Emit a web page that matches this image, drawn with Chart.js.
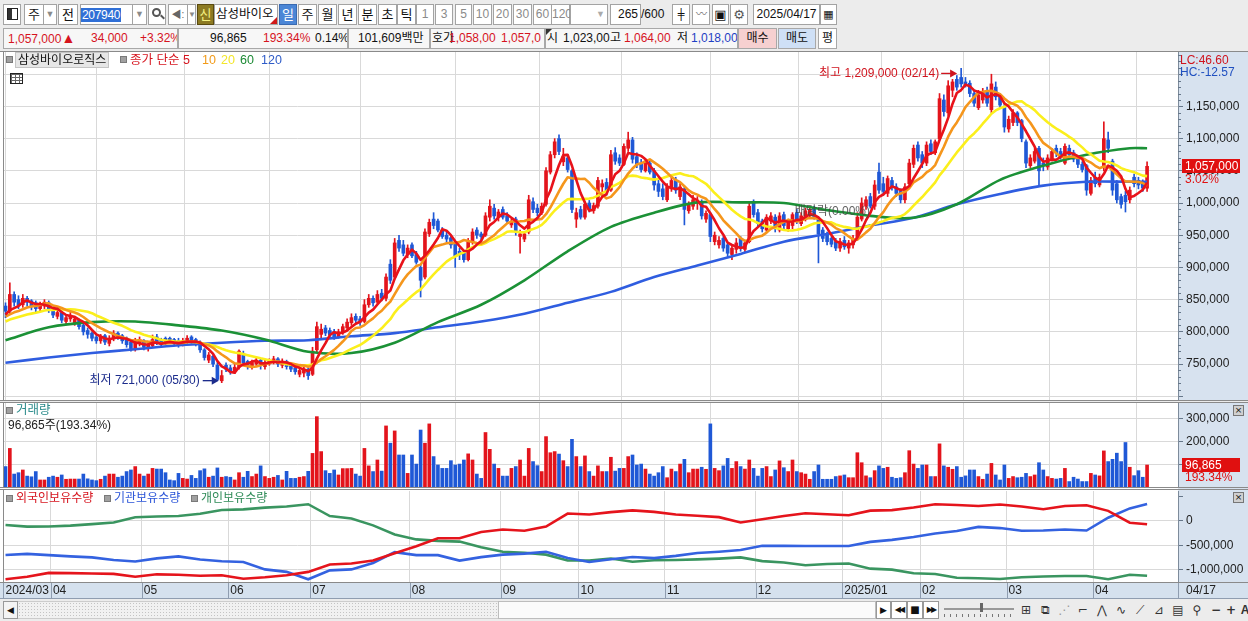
<!DOCTYPE html>
<html lang="ko">
<head>
<meta charset="utf-8">
<title>삼성바이오로직스 일봉</title>
<script src="https://cdn.jsdelivr.net/npm/chart.js@4.4.1/dist/chart.umd.min.js"></script>
<style>
html,body{margin:0;padding:0}
body{width:1248px;height:621px;overflow:hidden;background:#ececec;position:relative;
 font-family:"Liberation Sans","Noto Sans CJK KR","DejaVu Sans",sans-serif;font-size:12px;color:#111}
.a{position:absolute;box-sizing:border-box;white-space:nowrap}
.b{border:1px solid #a3a3a3;background:#fff;text-align:center;height:21px;line-height:19px;top:4px;font-size:13px}
.g{color:#8a8a8a;font-size:12px}
.r{color:#d6141e}
.bl{color:#1f3fc4}
.row2{top:28px;height:21px;line-height:19px;border:1px solid #a8a8a8;background:#f7f7f7;overflow:hidden}
.t{position:absolute;top:0}
.sq{position:absolute;width:7px;height:7px;background:#a0a0a0;border:1px solid #7a7a7a;box-sizing:border-box}
canvas{position:absolute;left:0}
.ic{position:absolute;top:602px;height:17px;width:18px;text-align:center;font-size:12px;line-height:17px;color:#333;font-family:"DejaVu Sans",sans-serif}
</style>
</head>
<body>
<!-- toolbar row 1 -->
<div class="a b" style="left:3px;width:18px"><div class="a" style="left:3px;top:3px;width:11px;height:12px;border:1px solid #222;background:linear-gradient(90deg,#333 0 4px,#fff 4px)"></div></div>
<div class="a b" style="left:24px;width:20px">주</div>
<div class="a b g" style="left:43px;width:14px;font-size:9px">▼</div>
<div class="a b" style="left:58px;width:20px">전</div>
<div class="a b" style="left:80px;width:53px;text-align:left"><span style="background:#2f6fd6;color:#fff;padding:0 1px;font-size:12px;letter-spacing:-0.3px">207940</span></div>
<div class="a b g" style="left:132px;width:15px;font-size:9px">▼</div>
<div class="a b" style="left:148px;width:18px"><div class="a" style="left:3px;top:3px;width:9px;height:9px;border:2px solid #555;border-radius:50%"></div><div class="a" style="left:11px;top:11px;width:5px;height:2px;background:#555;transform:rotate(45deg)"></div></div>
<div class="a b g" style="left:168px;width:20px;font-size:10px;color:#666">◀:</div>
<div class="a b g" style="left:187px;width:9px;font-size:8px">▼</div>
<div class="a b" style="left:197px;width:17px;background:#8c7a22;border-color:#5a4a10;color:#f4f080">신</div>
<div class="a b" style="left:214px;width:64px;text-align:left;padding-left:1px;font-size:12.5px">삼성바이오<div class="a" style="right:0;bottom:0;width:0;height:0;border-left:7px solid transparent;border-bottom:7px solid #d01818"></div></div>
<div class="a b" style="left:279px;width:18px;background:#4b86d6;border-color:#3a6ab0;color:#fff">일</div>
<div class="a b" style="left:298px;width:19px">주</div>
<div class="a b" style="left:318px;width:19px">월</div>
<div class="a b" style="left:338px;width:19px">년</div>
<div class="a b" style="left:358px;width:19px">분</div>
<div class="a b" style="left:378px;width:19px">초</div>
<div class="a b" style="left:397px;width:19px">틱</div>
<div class="a b g" style="left:416px;width:18px">1</div>
<div class="a b g" style="left:435px;width:18px">3</div>
<div class="a b g" style="left:455px;width:17px">5</div>
<div class="a b g" style="left:473px;width:19px">10</div>
<div class="a b g" style="left:493px;width:19px">20</div>
<div class="a b g" style="left:513px;width:19px">30</div>
<div class="a b g" style="left:533px;width:19px">60</div>
<div class="a b g" style="left:551px;width:19px">120</div>
<div class="a b" style="left:570px;width:38px"><span class="a g" style="right:2px;top:0;font-size:9px;color:#aaa">▼</span></div>
<div class="a b" style="left:610px;width:31px;text-align:right;padding-right:2px;font-size:12px">265</div>
<div class="a" style="left:641px;top:4px;line-height:21px;font-size:12px">/600</div>
<div class="a b" style="left:672px;width:18px;font-family:'DejaVu Sans';font-size:11px">╪</div>
<div class="a b" style="left:692px;width:18px;font-family:'DejaVu Sans';font-size:11px;color:#777">〰</div>
<div class="a b" style="left:712px;width:17px;font-family:'DejaVu Sans';font-size:13px">▣</div>
<div class="a b" style="left:730px;width:18px;font-family:'DejaVu Sans';font-size:13px;color:#555">⚙</div>
<div class="a b" style="left:753px;width:67px;font-size:12px">2025/04/17</div>
<div class="a b" style="left:820px;width:17px;font-family:'DejaVu Sans';font-size:11px">▦</div>

<!-- toolbar row 2 -->
<div class="a row2" style="left:3px;width:175px"><span class="t r" style="left:4px">1,057,000<span style="font-size:14px">▲</span></span><span class="t r" style="left:87px">34,000</span><span class="t r" style="left:136px">+3.32%</span></div>
<div class="a row2" style="left:178px;width:170px"><span class="t" style="left:31px">96,865</span><span class="t r" style="left:84px">193.34%</span><span class="t" style="left:136px">0.14%</span></div>
<div class="a row2" style="left:348px;width:82px"><span class="t" style="left:9px">101,609백만</span></div>
<div class="a row2" style="left:430px;width:115px"><span class="t" style="left:1px">호가</span><span class="t r" style="left:18px">1,058,00</span><span class="t r" style="left:70px">1,057,0</span></div>
<div class="a row2" style="left:545px;width:193px"><div class="a" style="left:0;top:0;width:0;height:0;border-top:6px solid #333;border-right:6px solid transparent"></div><span class="t" style="left:1px">시</span><span class="t" style="left:17px">1,023,00</span><span class="t" style="left:64px">고</span><span class="t r" style="left:78px">1,064,00</span><span class="t" style="left:131px">저</span><span class="t bl" style="left:145px">1,018,00</span></div>
<div class="a row2" style="left:738px;width:39px;background:#f6d0d0;text-align:center">매수</div>
<div class="a row2" style="left:778px;width:38px;background:#cfe0f6;text-align:center">매도</div>
<div class="a row2" style="left:818px;width:19px;background:#fff;text-align:center">평</div>

<!-- charts -->
<canvas id="cPrice" width="1248" height="350" style="top:51px"></canvas>
<canvas id="cVol" width="1248" height="87" style="top:402px"></canvas>
<canvas id="cHold" width="1248" height="110" style="top:489px"></canvas>

<!-- price legend -->
<div class="sq" style="left:6px;top:56px"></div>
<div class="a" style="left:15px;top:52px;height:16px;padding:0 2px;background:#e6e6e6;border:1px solid #c4c4c4;font-size:12px;line-height:14px">삼성바이오로직스</div>
<div class="sq" style="left:120px;top:56px"></div>
<div class="a r" style="left:130px;top:52px;font-size:12.5px;line-height:16px">종가 단순 5</div>
<div class="a" style="left:202px;top:52px;font-size:12.5px;line-height:16px;color:#f29a18">10</div>
<div class="a" style="left:221px;top:52px;font-size:12.5px;line-height:16px;color:#f3e62a">20</div>
<div class="a" style="left:240px;top:52px;font-size:12.5px;line-height:16px;color:#1c8a34">60</div>
<div class="a" style="left:261px;top:52px;font-size:12.5px;line-height:16px;color:#2f5cc8">120</div>
<div class="a" style="left:10px;top:73px;width:13px;height:11px;border:1px solid #222;background-color:#fff;background-image:linear-gradient(#666 1px,transparent 1px),linear-gradient(90deg,#666 1px,transparent 1px);background-size:4px 3px"></div>

<!-- volume legend -->
<div class="sq" style="left:6px;top:407px"></div>
<div class="a" style="left:16px;top:403px;font-size:12.5px;line-height:15px;color:#2c8c8c">거래량</div>
<div class="a" style="left:8px;top:418px;font-size:12px;line-height:15px;color:#222">96,865주(193.34%)</div>
<div class="a" style="left:1233px;top:405px;width:11px;height:11px;background:#d0d0d0;border:1px solid #777;font-size:9px;line-height:9px;text-align:center;font-family:'DejaVu Sans'">×</div>

<!-- holdings legend -->
<div class="sq" style="left:6px;top:495px"></div>
<div class="a r" style="left:16px;top:491px;font-size:12px;line-height:15px">외국인보유수량</div>
<div class="sq" style="left:104px;top:495px"></div>
<div class="a bl" style="left:114px;top:491px;font-size:12px;line-height:15px;color:#2a54d8">기관보유수량</div>
<div class="sq" style="left:191px;top:495px"></div>
<div class="a" style="left:201px;top:491px;font-size:12px;line-height:15px;color:#2e8b57">개인보유수량</div>
<div class="a" style="left:1233px;top:492px;width:11px;height:11px;background:#d0d0d0;border:1px solid #777;font-size:9px;line-height:9px;text-align:center;font-family:'DejaVu Sans'">×</div>

<!-- scroll row -->
<div class="a" style="left:3px;top:601px;width:15px;height:18px;border:1px solid #999;background:#f4f4f4;font-size:9px;line-height:16px;text-align:center;font-family:'DejaVu Sans'">◀</div>
<div class="a" style="left:18px;top:601px;width:480px;height:18px;background-color:#f1f1f1;border-top:1px solid #ccc;border-bottom:1px solid #ccc;background-image:radial-gradient(#c4c4c4 0.7px,transparent 0.8px);background-size:3px 3px"></div>
<div class="a" style="left:498px;top:601px;width:378px;height:18px;background:#fbfbfb;border:1px solid #bdbdbd"></div>
<div class="a" style="left:876px;top:601px;width:15px;height:18px;border:1px solid #999;background:#fff;font-size:9px;line-height:16px;text-align:center;font-family:'DejaVu Sans'">▶</div>
<div class="a" style="left:891px;top:601px;width:16px;height:18px;border:1px solid #999;background:#fff;font-size:8px;line-height:16px;text-align:center;font-family:'DejaVu Sans';letter-spacing:-2px">◀◀</div>
<div class="a" style="left:907px;top:601px;width:16px;height:18px;border:1px solid #999;background:#fff;font-size:10px;line-height:16px;text-align:center;font-family:'DejaVu Sans'">■</div>
<div class="a" style="left:923px;top:601px;width:16px;height:18px;border:1px solid #999;background:#fff;font-size:8px;line-height:16px;text-align:center;font-family:'DejaVu Sans';letter-spacing:-2px">▶▶</div>
<div class="a" style="left:944px;top:608px;width:70px;height:2px;background:#999"></div>
<div class="a" style="left:980px;top:603px;width:3px;height:9px;background:#666"></div>
<div class="a" style="left:944px;top:614px;width:70px;height:3px;background-image:linear-gradient(90deg,#777 1px,transparent 1px);background-size:6px 3px"></div>
<div class="ic" style="left:1017px">⊞</div>
<div class="ic" style="left:1036px">⧉</div>
<div class="ic" style="left:1055px;color:#999">⋰</div>
<div class="ic" style="left:1074px">⌐</div>
<div class="ic" style="left:1093px">⋀</div>
<div class="ic" style="left:1112px">∿</div>
<div class="ic" style="left:1131px">⟋</div>
<div class="ic" style="left:1150px">⊿</div>
<div class="ic" style="left:1169px">▤</div>
<div class="ic" style="left:1188px">⚲</div>
<div class="ic" style="left:1207px;font-weight:bold">−</div>
<div class="ic" style="left:1222px;font-weight:bold">+</div>
<div class="ic" style="left:1236px;font-weight:bold;font-family:'Liberation Sans'">A</div>

<script>
// ===== DATA (prices in thousand KRW, volumes/holdings in thousand shares) =====
const preCloses = [798,805,802,810,808,815,812,806,810,818,822,815,820,826,818,824,830,826,822];

const opens = [840,832,858,850,842,852,848,845,836,840,845,
836,824,830,816,820,814,818,810,802,798,792,786,794,782,790,798,794,790,784,774,782,
786,774,778,792,788,790,790,788,786,780,784,792,788,784,772,756,762,748,724,748,
744,738,745,766,754,746,750,756,746,750,752,758,748,754,748,744,734,736,742,
734,772,796,806,802,800,792,800,806,814,824,820,816,842,852,846,860,852,905,885,942,935,920,
935,920,900,885,952,975,972,958,950,946,938,925,922,912,940,958,952,950,978,992,978,
990,980,966,975,948,944,955,1002,992,985,998,1048,1075,1100,1064,1070,1050,975,
990,978,1000,988,995,1025,1032,1020,1078,1070,1060,1085,1098,1072,1062,1050,1062,1050,1030,1022,
1005,1022,1035,1010,1022,988,995,1000,1002,975,982,940,935,945,935,920,928,945,928,940,1000,
985,972,958,972,978,958,982,960,965,985,968,975,980,992,975,958,950,945,940,930,
942,930,935,945,975,995,1010,995,1048,1030,1015,1035,1025,1018,1005,1030,1060,1090,
1075,1062,1092,1078,1100,1160,1140,1175,1192,1195,1188,1186,1170,1148,1160,1175,1145,1180,1165,1150,
1115,1125,1140,1128,1095,1058,1065,1085,1062,1056,1068,1085,1080,1062,1085,1078,1068,1060,1058,1015,
1040,1028,1055,1098,1065,1030,1010,1012,1005,1040,1035,1032,1023];

const highs = [845,876,862,856,858,855,850,848,846,850,848,
838,834,832,826,830,824,820,812,806,800,795,796,796,794,802,800,796,792,786,790,792,
788,784,795,796,790,792,792,790,790,790,794,794,790,786,774,768,764,752,740,752,
748,750,772,770,756,756,760,758,756,758,762,760,758,756,750,746,744,746,744,
776,815,812,810,806,804,804,812,820,828,828,824,850,858,856,864,866,890,912,945,950,942,935,
938,925,905,960,975,985,975,962,955,950,942,930,926,945,960,962,955,985,1005,998,990,
994,985,975,978,958,956,1012,1008,998,1000,1055,1080,1100,1106,1085,1075,1052,992,
995,1002,1004,1000,1040,1036,1038,1082,1086,1075,1092,1110,1102,1078,1068,1068,1066,1054,1036,1030,
1030,1040,1040,1030,1026,1002,1012,1010,1005,988,985,955,948,948,938,935,945,948,942,1002,1005,
990,975,982,985,982,985,986,975,985,990,985,992,995,995,978,962,955,948,945,945,
948,942,950,985,1008,1010,1015,1035,1062,1040,1042,1040,1030,1022,1030,1068,1090,1095,
1080,1095,1098,1098,1170,1168,1190,1192,1198,1209,1195,1190,1175,1175,1178,1180,1200,1188,1170,1155,
1135,1145,1142,1130,1098,1075,1085,1088,1070,1075,1085,1090,1085,1092,1090,1082,1072,1064,1060,1040,
1048,1045,1126,1110,1068,1035,1014,1018,1025,1045,1040,1036,1064];

const lows = [822,828,840,836,838,840,834,830,832,836,830,
822,820,814,812,816,810,804,795,790,786,782,782,780,778,786,788,782,776,770,770,778,
772,770,776,780,776,780,782,778,776,778,782,782,778,768,756,752,746,724,721,738,
734,735,742,748,742,742,746,742,742,748,750,746,744,742,738,734,730,730,726,
732,768,790,794,790,788,790,796,802,810,814,810,814,838,840,842,848,848,875,882,925,918,915,
915,905,854,882,948,960,955,945,940,930,900,912,908,910,936,945,942,948,972,975,972,
975,968,962,950,922,940,952,985,980,982,995,1045,1070,1075,1058,1048,985,962,
975,975,986,984,992,1015,1012,1018,1060,1058,1058,1080,1062,1055,1048,1048,1045,1020,1010,1005,
1002,1018,1015,1005,966,984,990,990,975,970,940,935,930,925,915,912,922,925,924,938,978,
962,955,955,968,955,955,960,956,960,968,965,972,976,975,907,940,935,932,926,925,
928,922,930,942,972,990,992,990,1015,1012,1010,1020,1010,1000,1000,1025,1055,1065,
1055,1058,1075,1075,1098,1135,1136,1165,1175,1180,1180,1165,1150,1145,1155,1150,1140,1160,1148,1110,
1110,1120,1120,1095,1055,1055,1062,1028,1050,1052,1065,1072,1068,1060,1070,1064,1055,1048,1012,1012,
1025,1025,1050,1078,1012,1000,992,986,1000,1025,1022,1018,1018];

const closes = [832,858,846,842,852,846,840,836,842,846,834,
826,830,818,822,826,820,808,800,796,790,786,792,784,790,798,792,786,780,774,784,788,
776,780,788,784,780,784,786,782,780,786,790,786,782,772,760,764,750,726,732,742,
738,745,770,752,748,752,755,748,752,754,758,750,754,746,742,738,740,742,732,
770,808,804,798,795,792,800,808,815,822,818,815,842,852,845,858,852,885,880,938,930,922,930,
918,908,880,955,970,965,958,948,944,935,918,920,912,940,955,950,948,980,995,980,986,
978,972,970,955,952,952,1005,990,985,995,1050,1075,1095,1080,1072,1052,990,985,
978,998,990,996,1035,1030,1018,1075,1065,1062,1088,1098,1068,1060,1052,1062,1048,1028,1018,1010,
1025,1035,1020,1025,990,998,1005,1004,980,984,948,950,942,930,922,930,938,930,938,995,982,
968,960,978,980,960,980,965,970,982,972,980,988,990,978,952,945,940,936,930,940,
932,938,945,978,1000,1005,995,1028,1020,1018,1038,1025,1015,1005,1025,1062,1085,1070,
1062,1090,1080,1095,1162,1142,1182,1188,1180,1185,1184,1170,1155,1168,1172,1155,1185,1165,1152,1118,
1130,1140,1125,1100,1062,1070,1080,1050,1058,1070,1080,1078,1072,1088,1075,1068,1060,1052,1020,1035,
1030,1040,1100,1085,1020,1005,998,1002,1020,1030,1028,1023,1057];

const volumes = [90,170,57,63,75,48,45,68,31,31,43,
48,43,53,34,35,35,35,57,36,31,28,34,48,57,57,43,48,68,75,90,57,
48,57,82,79,79,63,31,28,60,38,35,51,38,72,80,43,48,84,43,46,
43,31,63,43,69,46,57,93,46,38,43,51,31,69,38,38,43,46,69,
148,310,156,72,60,75,53,81,81,82,57,48,170,93,68,119,70,269,193,247,141,141,60,
141,101,251,193,278,134,97,82,82,116,97,101,119,146,119,57,38,240,166,101,82,
48,48,82,90,119,48,170,112,94,68,222,151,156,145,116,90,210,134,
90,137,68,48,93,68,68,131,70,82,82,134,141,97,101,79,57,48,63,90,
41,79,68,101,122,63,79,79,87,78,278,82,72,93,126,82,112,90,79,119,82,
48,82,90,46,75,115,85,68,119,68,63,57,34,68,97,34,34,34,46,49,
53,41,41,151,107,49,41,72,93,82,87,43,38,41,63,160,101,82,
97,97,46,46,190,93,87,78,90,43,49,75,75,46,34,57,104,53,31,97,
38,46,41,43,60,46,53,107,75,46,38,35,38,82,24,43,35,24,24,60,
53,49,159,112,122,149,112,196,87,50,72,43,96.865];

// moving averages 60 / 120 at these bar indices
const maIdx = [0,10,20,30,40,50,60,70,80,90,100,110,120,130,140,150,160,170,180,190,200,210,220,230,240,250,260,264];
const ma60  = [787,807,815,816,810,802,788,769,767,783,815,842,880,925,963,985,1001,1001,1000,989,980,977,998,1036,1058,1075,1085,1085];
const ma120 = [752,760,767,773,779,783,786,787,793,798,807,816,828,845,862,885,903,921,940,952,965,977,998,1014,1027,1033,1033,1033];

// investor holdings (thousand shares, relative) at these bar indices
const holdIdx = [0,5,10,15,20,25,30,35,40,45,50,55,60,65,70,75,80,85,90,95,100,105,110,115,120,125,130,135,140,145,150,155,160,165,170,175,180,185,190,195,200,205,210,215,220,225,230,235,240,245,250,255,260,264];
const foreignHold = [-1191,-1138,-1060,-1066,-1072,-1080,-1138,-1090,-1100,-1118,-1110,-1180,-1150,-1110,-1040,-890,-870,-810,-660,-520,-358,-358,-230,-180,-203,-120,145,125,175,210,180,125,100,72,-35,28,95,150,130,110,205,215,270,335,320,300,330,290,232,300,315,200,-40,-73];
const instHold = [-697,-675,-700,-725,-745,-800,-830,-765,-725,-790,-825,-840,-990,-1040,-1191,-1010,-990,-860,-640,-700,-700,-810,-740,-690,-670,-630,-760,-840,-785,-738,-760,-715,-655,-630,-596,-510,-512,-514,-514,-514,-430,-390,-330,-260,-210,-125,-150,-203,-200,-180,-200,60,250,339];
const indivHold = [-87,-120,-118,-100,-70,-35,69,85,96,140,217,230,265,290,335,95,45,-95,-280,-380,-410,-425,-540,-630,-650,-690,-810,-810,-770,-833,-805,-800,-787,-770,-745,-822,-850,-905,-880,-870,-975,-995,-1069,-1083,-1160,-1171,-1185,-1150,-1135,-1124,-1124,-1191,-1100,-1118];

// axis data
const monthStart  = [0,11,32,52,71,94,115,133,153,174,194,212,232,252];
const monthLabels = ['2024/03','04','05','06','07','08','09','10','11','12','2025/01','02','03','04'];
const lastDateLabel = '04/17';
const priceTicks = [700,750,800,850,900,950,1000,1050,1100,1150,1200];
const priceLabelTicks = [750,800,850,900,950,1000,1050,1100,1150];
const volTicks = [100,200,300];
const holdTicks = [-1000,-500,0,500];
const holdLabelTicks = [-1000,-500,0];
const highDate = '02/14', lowDate = '05/30';
const exDivIndex = 183, exDivText = '배당락(0.00%)';
const tagPct = '3.02%', volPct = '193.34%';
const lcText = 'LC:46.60', hcText = 'HC:-12.57';

// ===== RENDERING =====
const FONT = "'Liberation Sans','Noto Sans CJK KR','DejaVu Sans',sans-serif";
Chart.defaults.font.family = FONT;
Chart.defaults.font.size = 12;
Chart.defaults.color = '#222';
const RED = '#e3141c', BLUE = '#1f58d6', GRID = '#d9d9d9', AXIS_BG = '#d7e2ef';
const XMIN = -0.35, XMAX = 271.15;
const fmt = v => Math.round(v).toLocaleString('en-US');
const N = closes.length;
const allCloses = preCloses.concat(closes);
function sma(n){
  const out = [];
  for (let i = 0; i < N; i++){
    let s = 0;
    for (let k = 0; k < n; k++) s += allCloses[preCloses.length + i - k];
    out.push({x:i, y:s/n});
  }
  return out;
}
const candleColor = closes.map((c,i) => c >= opens[i] ? RED : BLUE);

const scaleX = () => ({
  type:'linear', min:XMIN, max:XMAX, offset:false,
  afterBuildTicks: s => { s.ticks = monthStart.filter(v => v - 0.5 > XMIN).map(v => ({value:v - 0.5})); },
  afterFit: s => { s.height = 0; s.paddingLeft = 0; s.paddingRight = 0; s.paddingTop = 0; s.paddingBottom = 0; },
  ticks:{display:false},
  grid:{color:GRID, drawTicks:false, lineWidth:1},
  border:{display:false}
});
const scaleY = (min, max, ticks, shown, mult, gridAll) => ({
  position:'right', min, max,
  afterFit: s => { s.width = 70; s.paddingTop = 0; s.paddingBottom = 0; s.paddingLeft = 0; s.paddingRight = 0; },
  afterBuildTicks: s => { s.ticks = ticks.map(v => ({value:v})); },
  ticks:{ callback: v => shown.includes(v) ? fmt(v*mult) : '', padding:3, color:'#222', autoSkip:false, maxRotation:0, font:{size:12} },
  grid:{ color: c => (gridAll || (c.tick && shown.includes(c.tick.value))) ? GRID : 'rgba(0,0,0,0)', tickColor:'#66778a', tickLength:5 },
  border:{ color:'#7d8b9b' }
});

const panelPlugin = {
  id:'panelFrame',
  beforeDraw(chart){
    const {ctx, chartArea:a, width, height} = chart;
    ctx.save();
    ctx.fillStyle = '#ffffff'; ctx.fillRect(0, 0, a.right, height);
    ctx.fillStyle = AXIS_BG; ctx.fillRect(a.right, 0, width - a.right, height);
    ctx.restore();
  },
  afterDraw(chart){
    const {ctx, chartArea:a, width} = chart;
    ctx.save();
    ctx.strokeStyle = '#8a8a8a'; ctx.lineWidth = 1;
    ctx.beginPath();
    ctx.moveTo(3.5, 0); ctx.lineTo(3.5, a.bottom + 0.5);
    ctx.moveTo(0, 0.5); ctx.lineTo(width, 0.5);
    ctx.moveTo(0, a.bottom + 0.5); ctx.lineTo(width, a.bottom + 0.5);
    ctx.stroke();
    ctx.restore();
  }
};

function arrow(ctx, x1, x2, y, color){
  ctx.strokeStyle = color; ctx.fillStyle = color; ctx.lineWidth = 1.3;
  ctx.beginPath(); ctx.moveTo(x1, y); ctx.lineTo(x2 - 5, y); ctx.stroke();
  ctx.beginPath(); ctx.moveTo(x2, y); ctx.lineTo(x2 - 7, y - 4); ctx.lineTo(x2 - 7, y + 4); ctx.closePath(); ctx.fill();
}

const pricePlugin = {
  id:'priceExtras',
  afterDraw(chart){
    const {ctx, chartArea:a, scales:{x, y}} = chart;
    ctx.save();
    // minor ticks
    ctx.strokeStyle = '#66778a'; ctx.lineWidth = 1;
    ctx.beginPath();
    for (let v = 700; v <= 1230; v += 10){
      if (v % 50 === 0) continue;
      const py = Math.round(y.getPixelForValue(v)) + 0.5;
      ctx.moveTo(a.right, py); ctx.lineTo(a.right + 3, py);
    }
    ctx.stroke();
    ctx.font = '12px ' + FONT;
    ctx.textBaseline = 'middle';
    let iMax = 0, iMin = 0;
    highs.forEach((h,i) => { if (h > highs[iMax]) iMax = i; });
    lows.forEach((l,i) => { if (l < lows[iMin]) iMin = i; });
    let px = x.getPixelForValue(iMax), py = y.getPixelForValue(highs[iMax]) + 5;
    ctx.fillStyle = '#d0141e'; ctx.textAlign = 'right';
    ctx.fillText('최고 ' + fmt(highs[iMax]*1000) + ' (' + highDate + ')', px - 22, py);
    arrow(ctx, px - 20, px - 4, py, '#d0141e');
    px = x.getPixelForValue(iMin); py = y.getPixelForValue(lows[iMin]) - 2;
    ctx.fillStyle = '#1c2c8c'; ctx.textAlign = 'right';
    ctx.fillText('최저 ' + fmt(lows[iMin]*1000) + ' (' + lowDate + ')', px - 22, py);
    arrow(ctx, px - 19, px - 3, py, '#1c2c8c');
    ctx.textAlign = 'left'; ctx.fillStyle = 'rgba(70,70,70,0.85)';
    ctx.fillText(exDivText, x.getPixelForValue(exDivIndex) - 2, y.getPixelForValue(highs[exDivIndex]) + 2);
    const last = closes[N - 1];
    const ty = y.getPixelForValue(last);
    ctx.fillStyle = '#e01010'; ctx.fillRect(a.right + 4, Math.round(ty) - 7, 58, 14);
    ctx.fillStyle = '#ffffff'; ctx.fillText(fmt(last*1000), a.right + 7, ty + 0.5);
    ctx.fillStyle = '#e01010'; ctx.fillText(tagPct, a.right + 7, ty + 13);
    ctx.fillStyle = '#d0141e'; ctx.fillText(lcText, a.right + 2, 10);
    ctx.fillStyle = '#2050c0'; ctx.fillText(hcText, a.right + 2, 22);
    ctx.restore();
  }
};

new Chart(document.getElementById('cPrice'), {
  type:'bar',
  data:{ datasets:[
    {type:'line', label:'MA5', data:sma(5), borderColor:'#e8121a', borderWidth:2.6, pointRadius:0, tension:0, borderJoinStyle:'round', order:1},
    {type:'line', label:'MA10', data:sma(10), borderColor:'#f5961c', borderWidth:2.6, pointRadius:0, tension:0, borderJoinStyle:'round', order:2},
    {type:'line', label:'MA20', data:sma(20), borderColor:'#fbef1c', borderWidth:2.6, pointRadius:0, tension:0, borderJoinStyle:'round', order:3},
    {type:'line', label:'MA60', data:ma60.map((v,k)=>({x:maIdx[k], y:v})), borderColor:'#1b9136', borderWidth:2.6, pointRadius:0, tension:0.3, order:4},
    {type:'line', label:'MA120', data:ma120.map((v,k)=>({x:maIdx[k], y:v})), borderColor:'#2f5de0', borderWidth:2.6, pointRadius:0, tension:0.3, order:5},
    {label:'body', data:opens.map((o,i)=>({x:i, y:[o, closes[i]]})), backgroundColor:candleColor, barThickness:3, grouped:false, minBarLength:1, order:10},
    {label:'wick', data:opens.map((o,i)=>({x:i, y:[lows[i], highs[i]]})), backgroundColor:candleColor, barThickness:1, grouped:false, order:11}
  ]},
  options:{
    responsive:false, animation:false, events:[],
    layout:{padding:{left:4, right:0, top:1, bottom:1}},
    plugins:{legend:{display:false}, tooltip:{enabled:false}},
    scales:{ x:scaleX(), y:scaleY(694.1, 1234.5, priceTicks, priceLabelTicks, 1000, true) }
  },
  plugins:[panelPlugin, pricePlugin]
});

const volPlugin = {
  id:'volExtras',
  afterDraw(chart){
    const {ctx, chartArea:a, scales:{y}} = chart;
    ctx.save();
    ctx.font = '12px ' + FONT; ctx.textBaseline = 'middle'; ctx.textAlign = 'left';
    const v = volumes[N - 1], ty = y.getPixelForValue(v);
    ctx.fillStyle = '#e01010'; ctx.fillRect(a.right + 4, Math.round(ty) - 7, 58, 14);
    ctx.fillStyle = '#fff'; ctx.fillText(fmt(v*1000), a.right + 7, ty + 0.5);
    ctx.fillStyle = '#e01010'; ctx.fillText(volPct, a.right + 7, ty + 13);
    ctx.restore();
  }
};

new Chart(document.getElementById('cVol'), {
  type:'bar',
  data:{ datasets:[
    {label:'거래량', data:volumes.map((v,i)=>({x:i, y:v})), backgroundColor:candleColor, barThickness:3, grouped:false}
  ]},
  options:{
    responsive:false, animation:false, events:[],
    layout:{padding:{left:4, right:0, top:1, bottom:2}},
    plugins:{legend:{display:false}, tooltip:{enabled:false}},
    scales:{ x:scaleX(), y:scaleY(0, 370, volTicks, volTicks, 1000, true) }
  },
  plugins:[panelPlugin, volPlugin]
});

const axisRowPlugin = {
  id:'axisRow',
  afterDraw(chart){
    const {ctx, chartArea:a, width, scales:{x}} = chart;
    const y0 = a.bottom + 1, h = 15;
    ctx.save();
    ctx.fillStyle = '#d5e1ee'; ctx.fillRect(0, y0, width, h);
    ctx.strokeStyle = '#8f9db0'; ctx.lineWidth = 1;
    ctx.beginPath();
    ctx.moveTo(0, y0 + h + 0.5); ctx.lineTo(width, y0 + h + 0.5);
    ctx.moveTo(3.5, y0); ctx.lineTo(3.5, y0 + h);
    ctx.moveTo(a.right + 0.5, y0); ctx.lineTo(a.right + 0.5, y0 + h);
    monthStart.forEach(m => {
      if (m - 0.5 <= XMIN) return;
      const px = Math.round(x.getPixelForValue(m - 0.5)) + 0.5;
      ctx.moveTo(px, y0); ctx.lineTo(px, y0 + h);
    });
    ctx.stroke();
    ctx.font = '12px ' + FONT; ctx.fillStyle = '#222'; ctx.textBaseline = 'middle'; ctx.textAlign = 'left';
    monthStart.forEach((m,k) => {
      const px = Math.max(x.getPixelForValue(m - 0.5), 3.5);
      ctx.fillText(monthLabels[k], px + 2, y0 + 8);
    });
    ctx.fillText(lastDateLabel, a.right + 8, y0 + 8);
    ctx.restore();
  }
};

new Chart(document.getElementById('cHold'), {
  type:'line',
  data:{ datasets:[
    {label:'외국인보유수량', data:foreignHold.map((v,k)=>({x:holdIdx[k], y:v})), borderColor:'#e5141c', borderWidth:2.6, pointRadius:0, tension:0},
    {label:'기관보유수량', data:instHold.map((v,k)=>({x:holdIdx[k], y:v})), borderColor:'#3462e0', borderWidth:2.6, pointRadius:0, tension:0},
    {label:'개인보유수량', data:indivHold.map((v,k)=>({x:holdIdx[k], y:v})), borderColor:'#3a9560', borderWidth:2.6, pointRadius:0, tension:0}
  ]},
  options:{
    responsive:false, animation:false, events:[],
    layout:{padding:{left:4, right:0, top:2, bottom:17}},
    plugins:{legend:{display:false}, tooltip:{enabled:false}},
    scales:{ x:scaleX(), y:scaleY(-1245.9, 603.7, holdTicks, holdLabelTicks, 1000, false) }
  },
  plugins:[panelPlugin, axisRowPlugin]
});
</script>
</body>
</html>
